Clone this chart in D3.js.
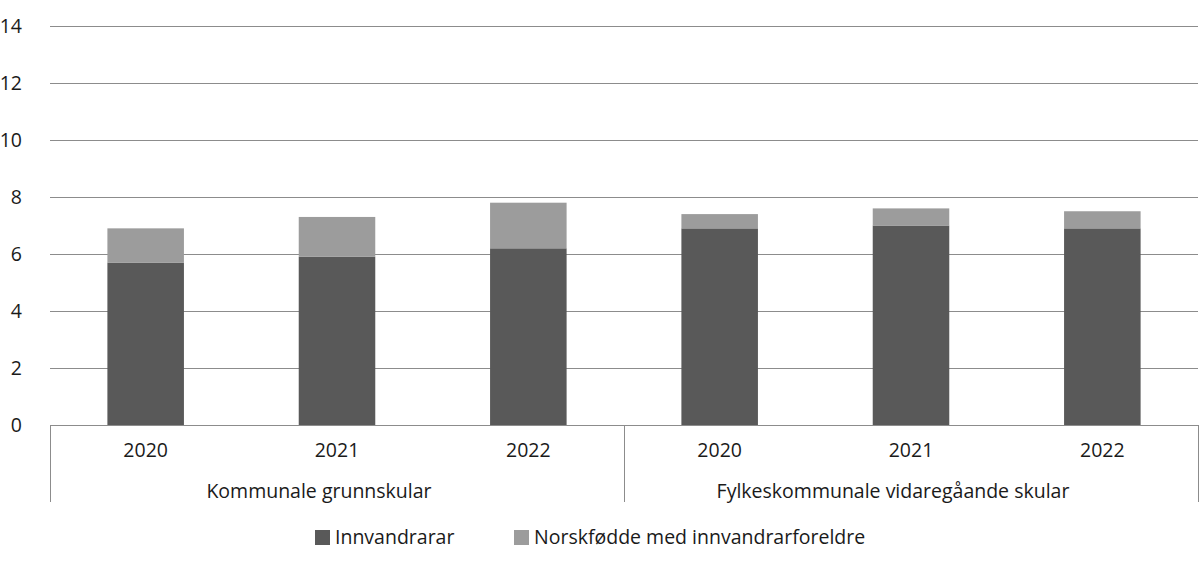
<!DOCTYPE html>
<html>
<head>
<meta charset="utf-8">
<script src="https://cdn.jsdelivr.net/npm/d3@7"></script>
<style>
  body { margin: 0; background: #fff; }
  svg text { font-family: "Open Sans", Lato, sans-serif; fill: #1a1a1a; font-size: 19.5px; }
</style>
</head>
<body>
<svg id="chart" width="1200" height="564"></svg>
<script>
/////////////////////////////////
// DATA
//////////////////////////////////

var groups = ["Kommunale grunnskular", "Fylkeskommunale vidaregåande skular"];
var years = ["2020", "2021", "2022"];
var seriesNames = ["Innvandrarar", "Norskfødde med innvandrarforeldre"];
var innvandrarar = [5.7, 5.9, 6.2, 6.9, 7.0, 6.9];
var norskfodde = [1.2, 1.4, 1.6, 0.5, 0.6, 0.6];
var yTicks = [0, 2, 4, 6, 8, 10, 12, 14];

/////////////////////////////////
// SETUP
//////////////////////////////////

var svg = d3.select("#chart");
var margin = {top: 26, left: 50, right: 2};
var plotRight = 1200 - margin.right;
var zeroY = 425;

// one row per bar: group + year
var rows = [];
groups.forEach(function(g, gi) {
  years.forEach(function(y, yi) {
    var i = gi * years.length + yi;
    rows.push({key: g + "|" + y, group: g, year: y, a: innvandrarar[i], b: norskfodde[i]});
  });
});

var x = d3.scaleBand()
  .domain(rows.map(function(d) { return d.key; }))
  .range([margin.left, plotRight])
  .paddingInner(0.6)
  .paddingOuter(0.3);

var xGroup = d3.scaleBand()
  .domain(groups)
  .range([margin.left, plotRight]);

var y = d3.scaleLinear()
  .domain([0, 14])
  .range([zeroY, margin.top]);

var color = d3.scaleOrdinal()
  .domain(seriesNames)
  .range(["#595959", "#9c9c9c"]);

/////////////////////////////////
// GRIDLINES + Y LABELS
//////////////////////////////////

svg.append("g").selectAll("line")
  .data(yTicks)
  .enter()
  .append("line")
    .attr("x1", margin.left)
    .attr("x2", plotRight)
    .attr("y1", function(d) { return Math.round(y(d)) + 0.5; })
    .attr("y2", function(d) { return Math.round(y(d)) + 0.5; })
    .attr("stroke", "#8c8c8c")
    .attr("stroke-width", 1);

svg.append("g").selectAll("text")
  .data(yTicks)
  .enter()
  .append("text")
    .attr("x", 22)
    .attr("y", function(d) { return y(d) + 7; })
    .attr("text-anchor", "end")
    .text(function(d) { return d; });

/////////////////////////////////
// BARS
//////////////////////////////////

var stacked = d3.stack().keys(["a", "b"])(rows);

svg.append("g").selectAll("g")
  .data(stacked)
  .enter()
  .append("g")
    .attr("fill", function(d, i) { return color(seriesNames[i]); })
  .selectAll("rect")
  .data(function(d) { return d; })
  .enter()
  .append("rect")
    .attr("x", function(d) { return x(d.data.key); })
    .attr("width", x.bandwidth())
    .attr("y", function(d) { return y(d[1]); })
    .attr("height", function(d) { return y(d[0]) - y(d[1]); });

/////////////////////////////////
// CATEGORY AXIS (two levels)
//////////////////////////////////

var boxBottom = 502;

svg.append("line")
  .attr("x1", margin.left).attr("x2", plotRight)
  .attr("y1", zeroY + 0.5).attr("y2", zeroY + 0.5)
  .attr("stroke", "#8c8c8c");

var dividers = groups.map(function(g) { return xGroup(g); }).concat([plotRight]);

svg.append("g").selectAll("line")
  .data(dividers)
  .enter()
  .append("line")
    .attr("x1", function(d) { return Math.round(d) + 0.5; })
    .attr("x2", function(d) { return Math.round(d) + 0.5; })
    .attr("y1", zeroY)
    .attr("y2", boxBottom)
    .attr("stroke", "#8c8c8c");

svg.append("g").selectAll("text")
  .data(rows)
  .enter()
  .append("text")
    .attr("x", function(d) { return x(d.key) + x.bandwidth() / 2; })
    .attr("y", 457)
    .attr("text-anchor", "middle")
    .text(function(d) { return d.year; });

// group labels sit a little left of the group centre in the original
svg.append("g").selectAll("text")
  .data(groups)
  .enter()
  .append("text")
    .attr("x", function(d) { return xGroup(d) + xGroup.bandwidth() / 2 - 18; })
    .attr("y", 498)
    .attr("text-anchor", "middle")
    .text(function(d) { return d; });

/////////////////////////////////
// LEGEND
//////////////////////////////////

var legendX = [315, 514];

var legend = svg.append("g").selectAll("g")
  .data(seriesNames)
  .enter()
  .append("g")
    .attr("transform", function(d, i) { return "translate(" + legendX[i] + ",530)"; });

legend.append("rect")
  .attr("width", 15)
  .attr("height", 15)
  .attr("fill", color);

legend.append("text")
  .attr("x", 20)
  .attr("y", 14)
  .text(function(d) { return d; });
</script>
</body>
</html>
